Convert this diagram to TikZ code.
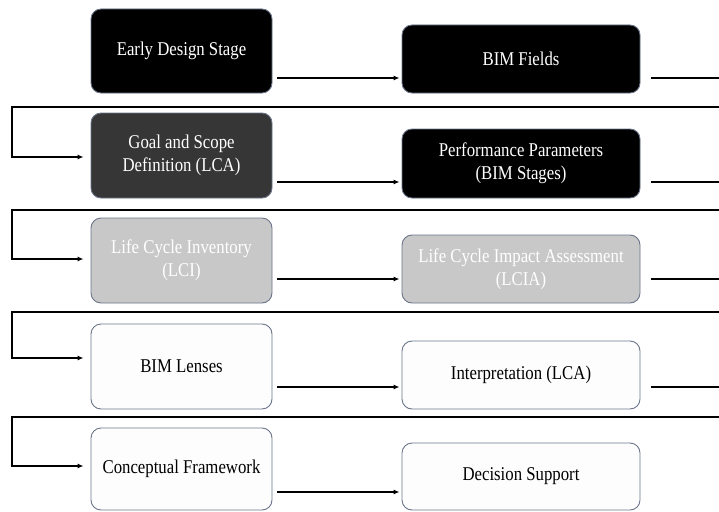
\documentclass[tikz,border=0pt]{standalone}
\usepackage{fontspec}
\setmainfont[FakeStretch=0.86]{Liberation Serif}
\usetikzlibrary{arrows.meta,calc}
\definecolor{bordc}{HTML}{6A7589}
\definecolor{darkf}{HTML}{363636}
\definecolor{lightf}{HTML}{C8C8C8}
\definecolor{whitef}{HTML}{FDFDFE}
\tikzset{
  box/.style={draw=bordc, line width=0.9pt, rounded corners=10pt, inner sep=0pt,
    align=center, font=\fontsize{19.5}{23}\selectfont},
  lbox/.style={box, minimum width=181pt},
  rbox/.style={box, minimum width=238pt},
  blackbox/.style={fill=black, text=white},
  darkbox/.style={fill=darkf, text=white},
  greybox/.style={fill=lightf, text=white},
  whitebox/.style={fill=whitef, text=black},
  conn/.style={line width=1.6pt, draw=black},
  arr/.style={conn, -{Latex[length=6pt,width=5pt]}},
}
\begin{document}
\begin{tikzpicture}[x=1pt,y=-1pt]
\useasboundingbox (0,0) rectangle (719,511);
% left column
\node[lbox, blackbox, minimum height=84pt] (L1) at (181.5,51) {Early Design Stage};
\node[lbox, darkbox, minimum height=85pt] (L2) at (181.5,155.5) {Goal and Scope\\Definition (LCA)};
\node[lbox, greybox, minimum height=85pt] (L3) at (181.5,260.5) {Life Cycle Inventory\\(LCI)};
\node[lbox, whitebox, minimum height=85pt] (L4) at (181.5,366.5) {BIM Lenses};
\node[lbox, whitebox, minimum height=82pt] (L5) at (181.5,469) {Conceptual Framework};
% right column
\node[rbox, blackbox, minimum height=68pt] (R1) at (521,59) {BIM Fields};
\node[rbox, blackbox, minimum height=69pt] (R2) at (521,163.5) {Performance Parameters\\(BIM Stages)};
\node[rbox, greybox, minimum height=68pt] (R3) at (521,269) {Life Cycle Impact Assessment\\(LCIA)};
\node[rbox, whitebox, minimum height=68pt] (R4) at (521,375) {Interpretation (LCA)};
\node[rbox, whitebox, minimum height=67pt] (R5) at (521,476.5) {Decision Support};
% row arrows
\coordinate (E) at (719,0);
\coordinate (W) at (12,0);
\foreach \a/\b/\y in {L1/R1/78, L2/R2/182, L3/R3/279, L4/R4/387, L5/R5/492}{
  \draw[arr] ([xshift=5pt]\a.east |- 0,\y) -- ([xshift=-2pt]\b.west |- 0,\y);
}
\foreach \b/\y in {R1/78, R2/182, R3/279, R4/387}{
  \draw[conn] ([xshift=11pt]\b.east |- 0,\y) -- (E |- 0,\y);
}
% wrap connectors
\foreach \t/\h/\y in {L2/107/157, L3/210/259, L4/312/358, L5/417/466}{
  \draw[arr] (E |- 0,\h) -- (W |- 0,\h) -- (W |- 0,\y) -- ([xshift=-7pt]\t.west |- 0,\y);
}
\end{tikzpicture}
\end{document}
